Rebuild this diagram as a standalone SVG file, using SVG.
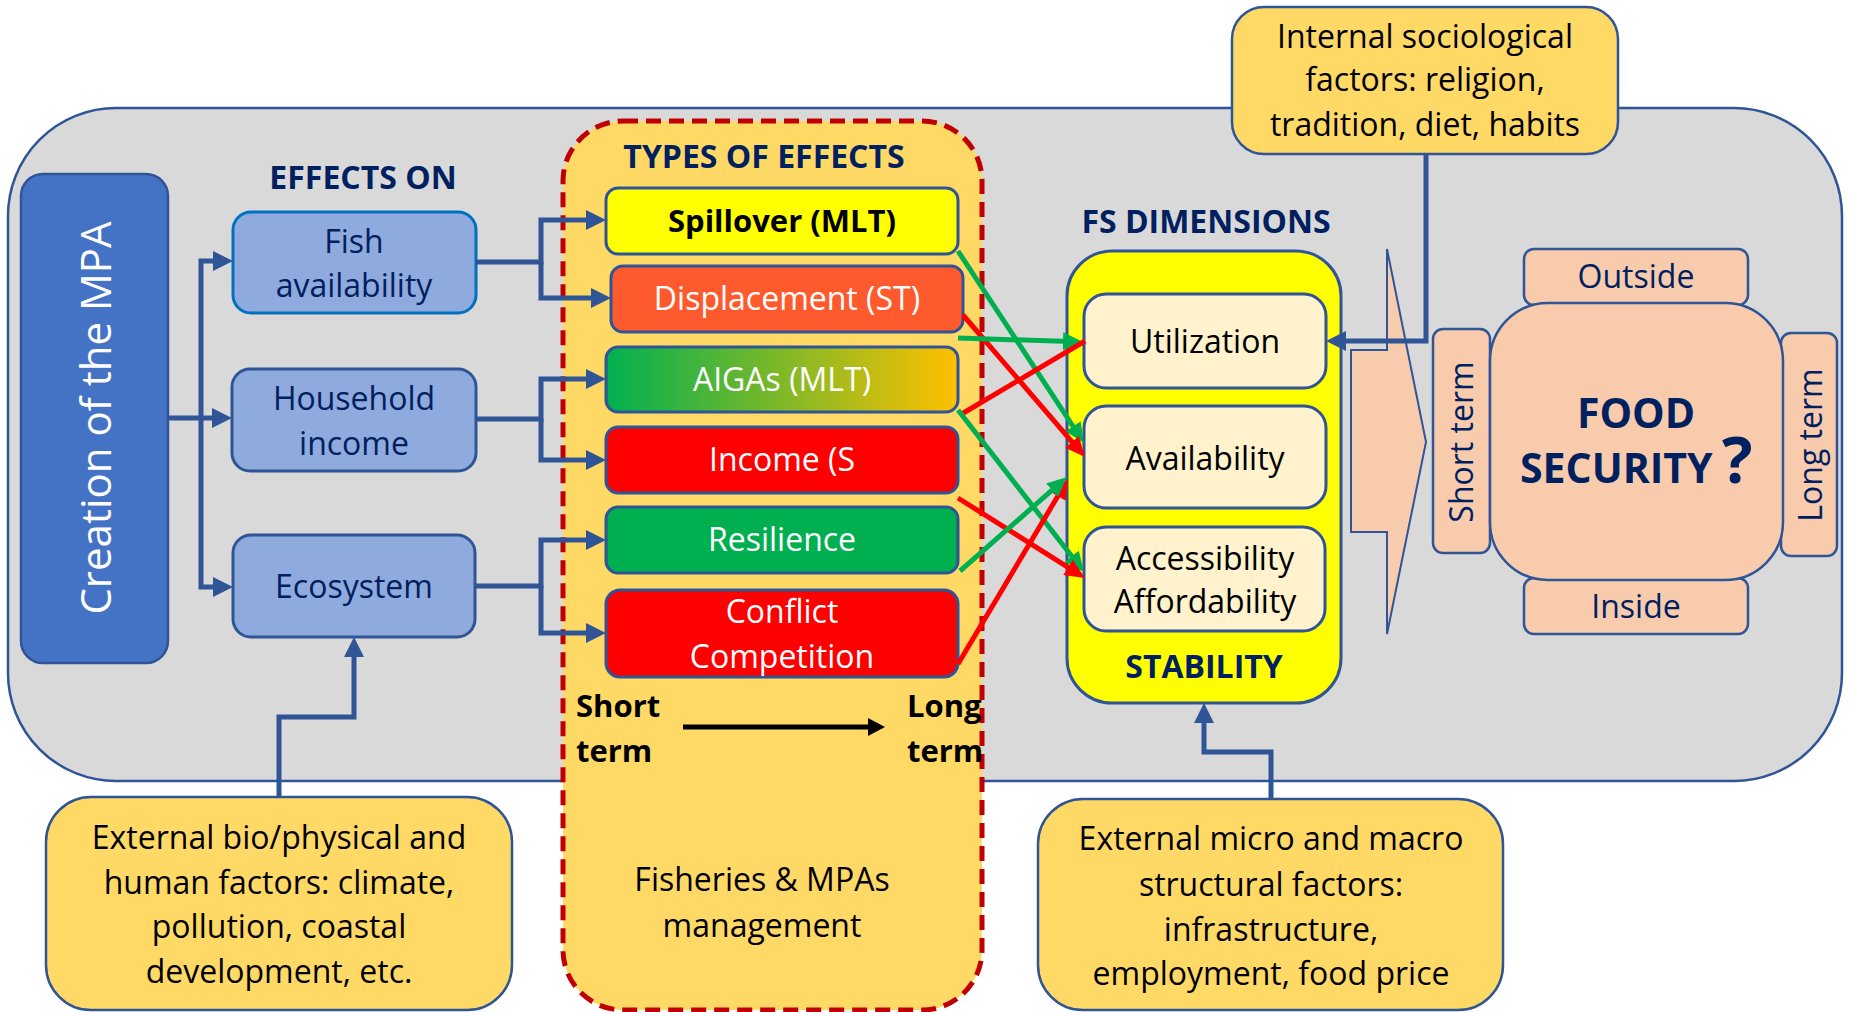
<svg xmlns="http://www.w3.org/2000/svg" width="1852" height="1012" viewBox="0 0 1852 1012">
<style>
text{font-family:"Open Sans","Liberation Sans",sans-serif;font-size:32px;text-anchor:middle}
.b{font-weight:700}
.nv{fill:#002060}
.wh{fill:#FFFFFF}
.bk{fill:#000000}
.eff{fill:#8FAADC;stroke:#2F5597;stroke-width:3}
.typ{stroke:#2F5597;stroke-width:3}
.dim{fill:#FFF2CC;stroke:#2F5597;stroke-width:3}
.ext{fill:#FFD966;stroke:#2F5597;stroke-width:2.5}
.pk{fill:#F8CBAD;stroke:#2F5597;stroke-width:2.5}
.cb{fill:none;stroke:#2F5597;stroke-width:5;stroke-linejoin:miter}
.cg{fill:none;stroke:#00B050;stroke-width:5}
.cr{fill:none;stroke:#FF0000;stroke-width:5}
</style>
<defs>
<linearGradient id="gAig" x1="0" y1="0" x2="1" y2="0">
<stop offset="0" stop-color="#00B050"/>
<stop offset="1" stop-color="#FFC000"/>
</linearGradient>
<marker id="ab" markerUnits="userSpaceOnUse" markerWidth="20" markerHeight="20" refX="8" refY="10" orient="auto"><path d="M0,0 L20,10 L0,20 z" fill="#2F5597"/></marker>
<marker id="ag" markerUnits="userSpaceOnUse" markerWidth="20" markerHeight="18" refX="8" refY="9" orient="auto"><path d="M0,0 L20,9 L0,18 z" fill="#00B050"/></marker>
<marker id="ar" markerUnits="userSpaceOnUse" markerWidth="20" markerHeight="18" refX="8" refY="9" orient="auto"><path d="M0,0 L20,9 L0,18 z" fill="#FF0000"/></marker>
<marker id="ak" markerUnits="userSpaceOnUse" markerWidth="17" markerHeight="18" refX="5" refY="9" orient="auto"><path d="M0,0 L17,9 L0,18 z" fill="#000000"/></marker>
</defs>

<g id="background">
<rect x="8" y="108" width="1834" height="673" rx="108" fill="#D9D9D9" stroke="#2F5597" stroke-width="2.5"/>
</g>

<g id="types-of-effects">
<rect x="563" y="121" width="419" height="889" rx="60" fill="#FFD966" stroke="#C00000" stroke-width="5" stroke-dasharray="15 8"/>
<text class="b nv" x="764" y="168">TYPES OF EFFECTS</text>
<text class="b bk" x="576" y="717" style="text-anchor:start;font-size:31px">Short</text>
<text class="b bk" x="576" y="762" style="text-anchor:start;font-size:31px">term</text>
<text class="b bk" x="907" y="717" style="text-anchor:start;font-size:31px">Long</text>
<text class="b bk" x="907" y="762" style="text-anchor:start;font-size:31px">term</text>
<text class="bk" x="762" y="891">Fisheries &amp; MPAs</text>
<text class="bk" x="762" y="937">management</text>
</g>

<g id="external-bio">
<rect class="ext" x="46" y="797" width="466" height="213" rx="45"/>
<text class="bk" x="279" y="849">External bio/physical and</text>
<text class="bk" x="279" y="894">human factors: climate,</text>
<text class="bk" x="279" y="938">pollution, coastal</text>
<text class="bk" x="279" y="983">development, etc.</text>
</g>

<g id="external-micro">
<rect class="ext" x="1038" y="799" width="465" height="211" rx="45"/>
<text class="bk" x="1271" y="850">External micro and macro</text>
<text class="bk" x="1271" y="896">structural factors:</text>
<text class="bk" x="1271" y="941">infrastructure,</text>
<text class="bk" x="1271" y="985">employment, food price</text>
</g>

<g id="internal-sociological">
<rect class="ext" x="1232" y="7" width="386" height="147" rx="32"/>
<text class="bk" x="1425" y="48">Internal sociological</text>
<text class="bk" x="1425" y="91">factors: religion,</text>
<text class="bk" x="1425" y="136">tradition, diet, habits</text>
</g>

<g id="creation-mpa">
<rect x="21" y="174" width="147" height="489" rx="22" fill="#4472C4" stroke="#2F5597" stroke-width="2.5"/>
<text class="wh" transform="translate(111,418) rotate(-90)" x="0" y="0" style="font-size:42px">Creation of the MPA</text>
</g>

<g id="effects-on">
<text class="b nv" x="363" y="189">EFFECTS ON</text>
</g>
<g id="fish-availability">
<rect class="eff" x="233" y="212" width="243" height="101" rx="18" style="stroke:#0070C0"/>
<text class="nv" x="354" y="253">Fish</text>
<text class="nv" x="354" y="297">availability</text>
</g>
<g id="household-income">
<rect class="eff" x="232" y="369" width="244" height="102" rx="18"/>
<text class="nv" x="354" y="410">Household</text>
<text class="nv" x="354" y="455">income</text>
</g>
<g id="ecosystem">
<rect class="eff" x="233" y="535" width="242" height="102" rx="18"/>
<text class="nv" x="354" y="598">Ecosystem</text>
</g>

<g id="spillover">
<rect class="typ" x="606" y="188" width="352" height="66" rx="12" fill="#FFFF00"/>
<text class="b bk" x="782" y="232" style="font-size:31px">Spillover (MLT)</text>
</g>
<g id="displacement">
<rect class="typ" x="611" y="266" width="352" height="66" rx="12" fill="#FF5A2D"/>
<text class="wh" x="787" y="310">Displacement (ST)</text>
</g>
<g id="aigas">
<rect class="typ" x="606" y="347" width="352" height="65" rx="12" fill="url(#gAig)"/>
<text class="wh" x="782" y="391">AIGAs (MLT)</text>
</g>
<g id="income">
<rect class="typ" x="606" y="427" width="352" height="66" rx="12" fill="#FF0000"/>
<text class="wh" x="782" y="471">Income (S</text>
</g>
<g id="resilience">
<rect class="typ" x="606" y="507" width="352" height="66" rx="12" fill="#00B050"/>
<text class="wh" x="782" y="551">Resilience</text>
</g>
<g id="conflict">
<rect class="typ" x="606" y="590" width="352" height="87" rx="14" fill="#FF0000"/>
<text class="wh" x="782" y="623">Conflict</text>
<text class="wh" x="782" y="668">Competition</text>
</g>

<g id="fs-dimensions">
<text class="b nv" x="1206" y="233">FS DIMENSIONS</text>
<rect x="1067" y="251" width="274" height="452" rx="45" fill="#FFFF00" stroke="#2F5597" stroke-width="3"/>
<text class="b nv" x="1204" y="678">STABILITY</text>
</g>
<g id="utilization">
<rect class="dim" x="1084" y="294" width="242" height="94" rx="22"/>
<text class="bk" x="1205" y="353">Utilization</text>
</g>
<g id="availability">
<rect class="dim" x="1084" y="406" width="242" height="102" rx="22"/>
<text class="bk" x="1205" y="470">Availability</text>
</g>
<g id="accessibility">
<rect class="dim" x="1084" y="527" width="241" height="104" rx="22"/>
<text class="bk" x="1205" y="570">Accessibility</text>
<text class="bk" x="1205" y="613">Affordability</text>
</g>

<g id="big-arrow">
<polygon class="pk" style="stroke-width:2" points="1387,249 1426,442 1387,634 1387,532 1351,532 1351,350 1387,350"/>
</g>

<g id="food-security">
<rect class="pk" x="1524" y="249" width="224" height="56" rx="10"/>
<rect class="pk" x="1524" y="578" width="224" height="56" rx="10"/>
<rect class="pk" x="1433" y="329" width="57" height="224" rx="10"/>
<rect class="pk" x="1781" y="333" width="56" height="223" rx="10"/>
<rect class="pk" x="1490" y="303" width="293" height="277" rx="58"/>
<text class="nv" x="1636" y="288">Outside</text>
<text class="nv" x="1636" y="618">Inside</text>
<text class="nv" transform="translate(1473,442) rotate(-90)" x="0" y="0">Short term</text>
<text class="nv" transform="translate(1822,445) rotate(-90)" x="0" y="0">Long term</text>
<text class="b nv" x="1636" y="428" style="font-size:41px">FOOD</text>
<text class="b nv" x="1520" y="483" style="font-size:41px;text-anchor:start">SECURITY</text>
<text class="b nv" x="1722" y="483" style="font-size:64px;text-anchor:start">?</text>
</g>

<g id="connectors">
<path class="cb" d="M168,418 H201 V261 H221" marker-end="url(#ab)"/>
<path class="cb" d="M201,418 H220" marker-end="url(#ab)"/>
<path class="cb" d="M201,418 V587 H221" marker-end="url(#ab)"/>
<path class="cb" d="M476,262 H541 V220 H594" marker-end="url(#ab)"/>
<path class="cb" d="M541,262 V298 H599" marker-end="url(#ab)"/>
<path class="cb" d="M476,419 H541 V379 H594" marker-end="url(#ab)"/>
<path class="cb" d="M541,419 V460 H594" marker-end="url(#ab)"/>
<path class="cb" d="M475,586 H541 V540 H594" marker-end="url(#ab)"/>
<path class="cb" d="M541,586 V633 H594" marker-end="url(#ab)"/>
<path class="cb" d="M279,797 V717 H354 V649" marker-end="url(#ab)"/>
<path class="cb" d="M1271,799 V752 H1204 V715" marker-end="url(#ab)"/>
<path class="cb" d="M1426,154 V341 H1338" marker-end="url(#ab)"/>
<path d="M683,727 H873" fill="none" stroke="#000000" stroke-width="5" marker-end="url(#ak)"/>
<path class="cg" d="M958,251 L1077.4,433" marker-end="url(#ag)"/>
<path class="cr" d="M963,315 L1077.2,447.9" marker-end="url(#ar)"/>
<path class="cg" d="M958,338 L1071,341.6" marker-end="url(#ag)"/>
<path class="cr" d="M960,415 L1085,341"/>
<path class="cg" d="M958,410 L1076.6,562.5" marker-end="url(#ag)"/>
<path class="cr" d="M958,498 L1074.8,571.6" marker-end="url(#ar)"/>
<path class="cr" d="M958,664 L1061.9,489.3" marker-end="url(#ar)"/>
<path class="cg" d="M960,571 L1058,484.9" marker-end="url(#ag)"/>
</g>
</svg>
